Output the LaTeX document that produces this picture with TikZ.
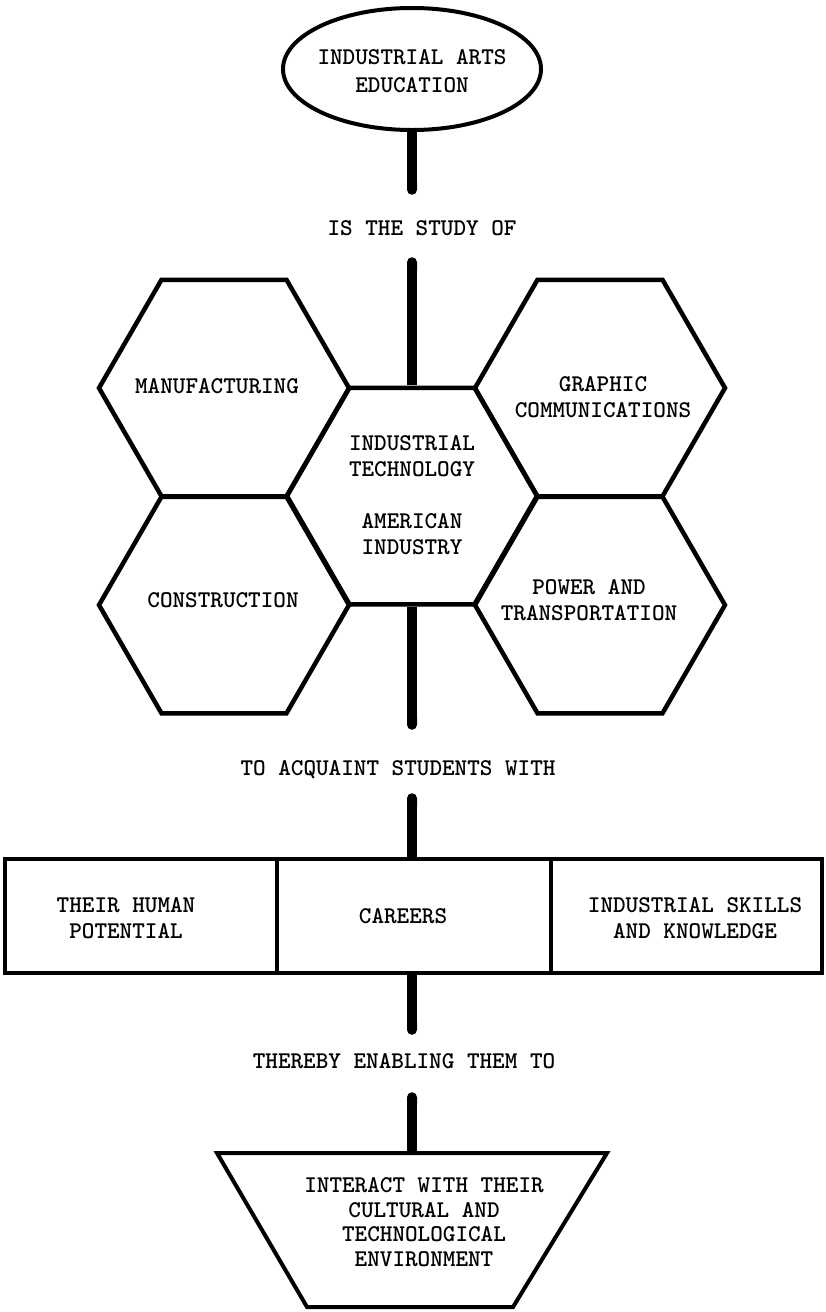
\documentclass[tikz,border=0pt]{standalone}
\usetikzlibrary{shapes.geometric,arrows.meta}
\tikzset{
  txt/.style={font=\ttfamily\bfseries\fontsize{24}{26}\selectfont, align=center, inner sep=0pt},
  hexa/.style={draw, line width=4.5pt, regular polygon, regular polygon sides=6, minimum size=250pt, inner sep=0pt},
  lbl/.style={font=\ttfamily\bfseries\fontsize{24}{26}\selectfont, inner sep=0pt, anchor=base},
  bar/.style={line width=10pt},
  boxx/.style={draw, line width=4pt, minimum height=114pt, inner sep=0pt},
  trapline/.style={draw, line width=4pt, line join=miter},
}
\begin{document}
\begin{tikzpicture}[x=1pt,y=-1pt]
\useasboundingbox (0,0) rectangle (825,1312);
% top ellipse
\node[draw, ellipse, line width=4pt, minimum width=258pt, minimum height=122pt, inner sep=0pt] (ell) at (412,69) {};
\node[txt, font=\ttfamily\bfseries\fontsize{24}{28.5}\selectfont] (ellt) at (412,71) {INDUSTRIAL ARTS\\EDUCATION};
% labels
\node[lbl, text height=40pt, text depth=22pt] (study) at (422,235) {IS THE STUDY OF};
\node[lbl, text height=45pt, text depth=18pt] (acq) at (398,775) {TO ACQUAINT STUDENTS WITH};
\node[lbl, text height=33pt, text depth=24pt] (thereby) at (404,1068) {THEREBY ENABLING THEM TO};
% hexagons
\node[hexa] (hexM) at (224,388) {};
\node[hexa] (hexG) at (600,388) {};
\node[hexa] (hexC) at (412,496) {};
\node[hexa] (hexK) at (224,605) {};
\node[hexa] (hexP) at (600,605) {};
\node[txt] (tM) at (217,386) {MANUFACTURING};
\node[txt] (tG) at (603,397) {GRAPHIC\\COMMUNICATIONS};
\node[txt] (tC) at (412,495) {INDUSTRIAL\\TECHNOLOGY\\[26pt]AMERICAN\\INDUSTRY};
\node[txt] (tK) at (223,600) {CONSTRUCTION};
\node[txt] (tP) at (589,600) {POWER AND\\TRANSPORTATION};
% boxes
\node[boxx, minimum width=272pt] (b1) at (141,916) {};
\node[boxx, minimum width=274pt] (b2) at (414,916) {};
\node[boxx, minimum width=271pt] (b3) at (686.5,916) {};
\node[txt] (t1) at (126,918) {THEIR HUMAN\\POTENTIAL};
\node[txt] (t2) at (403,916) {CAREERS};
\node[txt] (t3) at (695,918) {INDUSTRIAL SKILLS\\AND KNOWLEDGE};
% trapezium
\coordinate (trTL) at (217,1153);
\coordinate (trTR) at (607,1153);
\coordinate (trBR) at (513,1307);
\coordinate (trBL) at (307,1307);
\coordinate (trapTop) at (412,1153);
\draw[trapline] (trTL) -- (trTR) -- (trBR) -- (trBL) -- cycle;
\node[txt, font=\ttfamily\bfseries\fontsize{24}{24.5}\selectfont] (tT) at (424,1222) {INTERACT WITH THEIR\\CULTURAL AND\\TECHNOLOGICAL\\ENVIRONMENT};
% bars
\draw[bar, -{Round Cap[]}] (ell.south) -- (ell.south |- study.north);
\draw[bar, {Round Cap[]}-] (hexC.north |- study.south) -- (hexC.north);
\draw[bar, -{Round Cap[]}] (hexC.south) -- (hexC.south |- acq.north);
\draw[bar, {Round Cap[]}-] (hexC.south |- acq.south) -- (hexC.south |- b2.north);
\draw[bar, -{Round Cap[]}] (hexC.south |- b2.south) -- (hexC.south |- thereby.north);
\draw[bar, {Round Cap[]}-] (hexC.south |- thereby.south) -- (trapTop);
\end{tikzpicture}
\end{document}
